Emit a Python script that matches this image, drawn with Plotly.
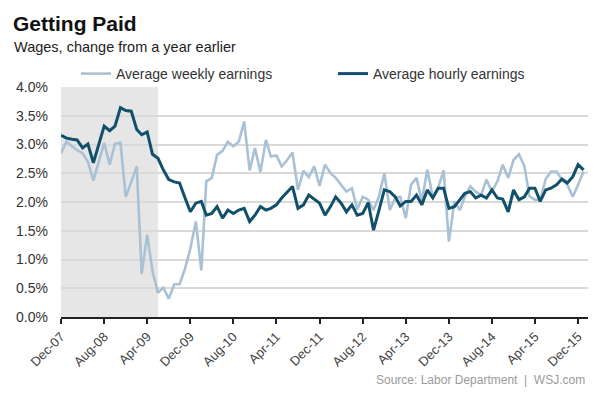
import pandas as pd
import plotly.graph_objects as go

# ---- data (year-over-year % change, monthly Dec 2007 - Jan 2016) ----
start_month = "2007-12-01"
n_months = 98

weekly_earnings = [
    2.85, 3.05, 2.97, 2.90, 2.85, 2.70, 2.37, 2.70, 3.03, 2.65,
    3.01, 3.03, 2.09, 2.35, 2.62, 0.75, 1.43, 0.80, 0.42, 0.51,
    0.32, 0.57, 0.57, 0.84, 1.19, 1.66, 0.81, 2.36, 2.42, 2.82,
    2.89, 3.05, 2.97, 3.05, 3.40, 2.55, 2.94, 2.52, 3.08, 2.79,
    2.81, 2.62, 2.73, 2.86, 2.21, 2.54, 2.43, 2.62, 2.28, 2.65,
    2.50, 2.42, 2.30, 2.18, 2.24, 1.87, 2.09, 2.04, 1.86, 2.10,
    2.50, 1.86, 2.07, 2.09, 1.72, 2.30, 2.42, 2.01, 2.56, 2.09,
    2.24, 2.55, 1.31, 2.01, 1.86, 2.09, 2.27, 2.18, 2.12, 2.39,
    2.18, 2.36, 2.65, 2.42, 2.73, 2.83, 2.62, 2.10, 2.04, 2.04,
    2.40, 2.53, 2.53, 2.39, 2.30, 2.09, 2.30, 2.53,
]

hourly_earnings = [
    3.16, 3.11, 3.09, 3.08, 2.94, 3.01, 2.68, 3.00, 3.32, 3.24,
    3.32, 3.64, 3.59, 3.58, 3.26, 3.17, 3.22, 2.83, 2.76, 2.56,
    2.39, 2.35, 2.33, 2.07, 1.83, 1.98, 2.01, 1.77, 1.80, 1.92,
    1.72, 1.86, 1.80, 1.86, 1.89, 1.66, 1.77, 1.92, 1.86, 1.89,
    1.95, 2.07, 2.18, 2.27, 1.89, 1.95, 2.12, 2.05, 1.98, 1.77,
    1.92, 2.09, 1.98, 1.83, 1.95, 1.77, 1.80, 1.99, 1.51, 1.86,
    2.21, 2.18, 2.09, 1.93, 2.01, 2.01, 2.12, 1.95, 2.21, 2.07,
    2.24, 2.24, 1.89, 1.92, 2.04, 2.15, 2.18, 2.07, 2.12, 2.07,
    2.21, 2.07, 2.05, 1.83, 2.21, 2.04, 2.09, 2.24, 2.24, 2.01,
    2.21, 2.24, 2.30, 2.40, 2.33, 2.44, 2.65, 2.56,
]

tick_dates = ["2007-12-01", "2008-08-01", "2009-04-01", "2009-12-01", "2010-08-01",
              "2011-04-01", "2011-12-01", "2012-08-01", "2013-04-01", "2013-12-01",
              "2014-08-01", "2015-04-01", "2015-12-01"]
tick_labels = ["Dec-07", "Aug-08", "Apr-09", "Dec-09", "Aug-10", "Apr-11", "Dec-11",
               "Aug-12", "Apr-13", "Dec-13", "Aug-14", "Apr-15", "Dec-15"]

y_ticks = [0.0, 0.5, 1.0, 1.5, 2.0, 2.5, 3.0, 3.5, 4.0]
y_tick_labels = ["0.0%", "0.5%", "1.0%", "1.5%", "2.0%", "2.5%", "3.0%", "3.5%", "4.0%"]

recession_start = "2007-12-01"
recession_end = "2009-06-01"

series_names = ["Average weekly earnings", "Average hourly earnings"]

months = pd.date_range(start_month, periods=n_months, freq="MS")

FONT = "Liberation Sans, Arial, Helvetica, sans-serif"
LIGHT = "#a9c1d5"
DARK = "#10506b"

# the page body has an 8px margin, so the figure is sized to fill the rest
W, H = 592, 385
ML, MR, MT, MB = 53, 12, 79, 76
PW, PH = W - ML - MR, H - MT - MB

fig = go.Figure()
fig.add_trace(go.Scatter(x=months, y=weekly_earnings, mode="lines", name=series_names[0],
                         line=dict(color=LIGHT, width=2.6)))
fig.add_trace(go.Scatter(x=months, y=hourly_earnings, mode="lines", name=series_names[1],
                         line=dict(color=DARK, width=3)))

fig.add_shape(type="rect", xref="x", yref="y", x0=recession_start, x1=recession_end,
              y0=0, y1=4.0, fillcolor="#e6e6e6", line=dict(width=0), layer="below")

fig.update_layout(
    width=W, height=H,
    margin=dict(l=ML, r=MR, t=MT, b=MB, autoexpand=False),
    paper_bgcolor="white", plot_bgcolor="white",
    font=dict(family=FONT, color="#333333"),
    title=dict(text="<b>Getting Paid</b>", x=5 / W, xanchor="left",
               yref="container", y=1 - 16 / H, yanchor="middle",
               font=dict(size=21, color="#111111", family=FONT)),
    showlegend=True,
    legend=dict(orientation="h", x=(68 - ML) / PW, xanchor="left",
                y=1 + (MT - 66) / PH, yanchor="middle",
                font=dict(size=14, color="#333333"), entrywidth=212,
                entrywidthmode="pixels", bgcolor="rgba(0,0,0,0)", borderwidth=0),
    xaxis=dict(type="date", range=["2007-12-01", "2016-01-26"], automargin=False,
               tickvals=tick_dates, ticktext=tick_labels, tickangle=-45,
               tickfont=dict(size=13, color="#444444"),
               showgrid=False, showline=True, linecolor="#222222", linewidth=2,
               ticks="outside", ticklen=5, tickwidth=2, tickcolor="#222222",
               zeroline=False),
    yaxis=dict(range=[0, 4.0], automargin=False,
               tickvals=y_ticks, ticktext=y_tick_labels,
               tickfont=dict(size=14, color="#333333"),
               showgrid=True, gridcolor="#d9d9d9", gridwidth=1.5,
               zeroline=False, showline=False, ticks="", ticklabelstandoff=12),
    annotations=[
        dict(text="Wages, change from a year earlier", xref="paper", yref="paper",
             x=(4 - ML) / PW, xanchor="left", y=1 + (MT - 39) / PH, yanchor="middle",
             showarrow=False, font=dict(size=14.5, color="#222222", family=FONT)),
        dict(text="Source: Labor Department  |  WSJ.com", xref="paper", yref="paper",
             x=(579 - ML) / PW, xanchor="right", y=-(372 - (MT + PH)) / PH, yanchor="middle",
             showarrow=False, font=dict(size=12, color="#9a9a9a", family=FONT)),
    ],
)

fig.write_html("out.html")
